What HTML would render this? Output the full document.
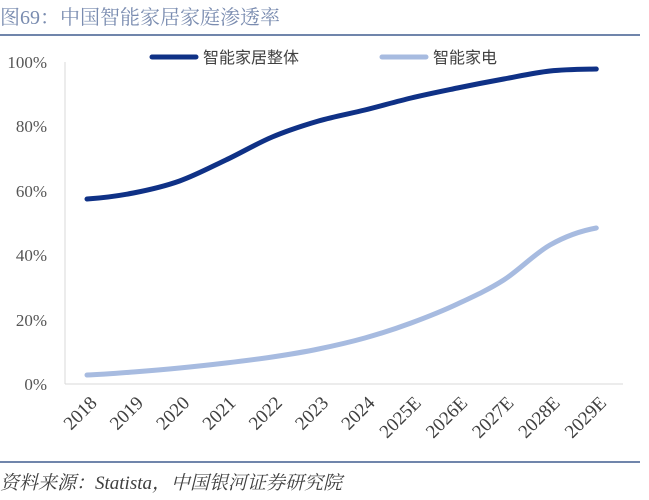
<!DOCTYPE html>
<html><head><meta charset="utf-8"><style>
html,body{margin:0;padding:0;background:#fff;}
svg{display:block;}
</style></head><body>
<svg width="649" height="500" xmlns="http://www.w3.org/2000/svg">
<text x="0" y="24" font-family="Liberation Serif, Noto Serif CJK SC, serif" font-size="20" fill="#7a8cb0">图69：中国智能家居家庭渗透率</text>
<line x1="0" y1="35" x2="640" y2="35" stroke="#7085ab" stroke-width="2"/>
<line x1="65" y1="62" x2="65" y2="384" stroke="#d9d9d9" stroke-width="1"/>
<line x1="65" y1="384" x2="623" y2="384" stroke="#d9d9d9" stroke-width="1"/>
<g font-family="Liberation Serif, serif" font-size="17" fill="#555" text-anchor="end">
<text x="47" y="68">100%</text>
<text x="47" y="132">80%</text>
<text x="47" y="197">60%</text>
<text x="47" y="261">40%</text>
<text x="47" y="326">20%</text>
<text x="47" y="390">0%</text>
</g>
<line x1="152" y1="57" x2="196" y2="57" stroke="#0f3186" stroke-width="5" stroke-linecap="round"/>
<text x="203" y="63" font-family="Liberation Sans, Noto Sans CJK SC, sans-serif" font-size="16" fill="#404040">智能家居整体</text>
<line x1="382" y1="57" x2="426" y2="57" stroke="#a7bbe0" stroke-width="5" stroke-linecap="round"/>
<text x="433" y="63" font-family="Liberation Sans, Noto Sans CJK SC, sans-serif" font-size="16" fill="#404040">智能家电</text>
<path fill="none" stroke="#0f3186" stroke-width="5" stroke-linecap="round"
d="M87,199 C102.4,198 117.9,196 133.3,193 C148.7,190 164.2,186.5 179.6,181 C195,175.5 210.5,167.3 225.9,160 C241.3,152.7 256.8,143.5 272.2,137 C287.6,130.5 303.1,125.5 318.5,121 C333.9,116.5 349.4,113.8 364.8,110 C380.2,106.2 395.7,101.7 411.1,98 C426.5,94.3 442,91.2 457.4,88 C472.8,84.8 488.3,81.8 503.7,79 C519.1,76.2 534.6,72.7 550,71 C565.4,69.3 580.9,69.3 596.3,69"/>
<path fill="none" stroke="#a7bbe0" stroke-width="5" stroke-linecap="round"
d="M87,375 C102.4,374.5 117.9,373.2 133.3,372 C148.7,370.8 164.2,369.5 179.6,368 C195,366.5 210.5,364.8 225.9,363 C241.3,361.2 256.8,359.3 272.2,357 C287.6,354.7 303.1,352.2 318.5,349 C333.9,345.8 349.4,342.3 364.8,338 C380.2,333.7 395.7,328.7 411.1,323 C426.5,317.3 442,311.2 457.4,304 C472.8,296.8 488.3,289.8 503.7,280 C519.1,270.2 534.6,253.7 550,245 C565.4,236.3 580.9,230.8 596.3,228"/>
<g font-family="Liberation Serif, serif" font-size="19" fill="#404040" text-anchor="end">
<text transform="translate(98,404) rotate(-45)">2018</text>
<text transform="translate(144.3,404) rotate(-45)">2019</text>
<text transform="translate(190.6,404) rotate(-45)">2020</text>
<text transform="translate(236.9,404) rotate(-45)">2021</text>
<text transform="translate(283.2,404) rotate(-45)">2022</text>
<text transform="translate(329.5,404) rotate(-45)">2023</text>
<text transform="translate(375.8,404) rotate(-45)">2024</text>
<text transform="translate(422.1,404) rotate(-45)">2025E</text>
<text transform="translate(468.4,404) rotate(-45)">2026E</text>
<text transform="translate(514.7,404) rotate(-45)">2027E</text>
<text transform="translate(561,404) rotate(-45)">2028E</text>
<text transform="translate(607.3,404) rotate(-45)">2029E</text>
</g>
<line x1="0" y1="462" x2="640" y2="462" stroke="#7085ab" stroke-width="2"/>
<text x="0" y="489" font-family="Liberation Serif, Noto Serif CJK SC, serif" font-size="19" font-style="italic" fill="#404040">资料来源：Statista，中国银河证券研究院</text>
</svg>
</body></html>
